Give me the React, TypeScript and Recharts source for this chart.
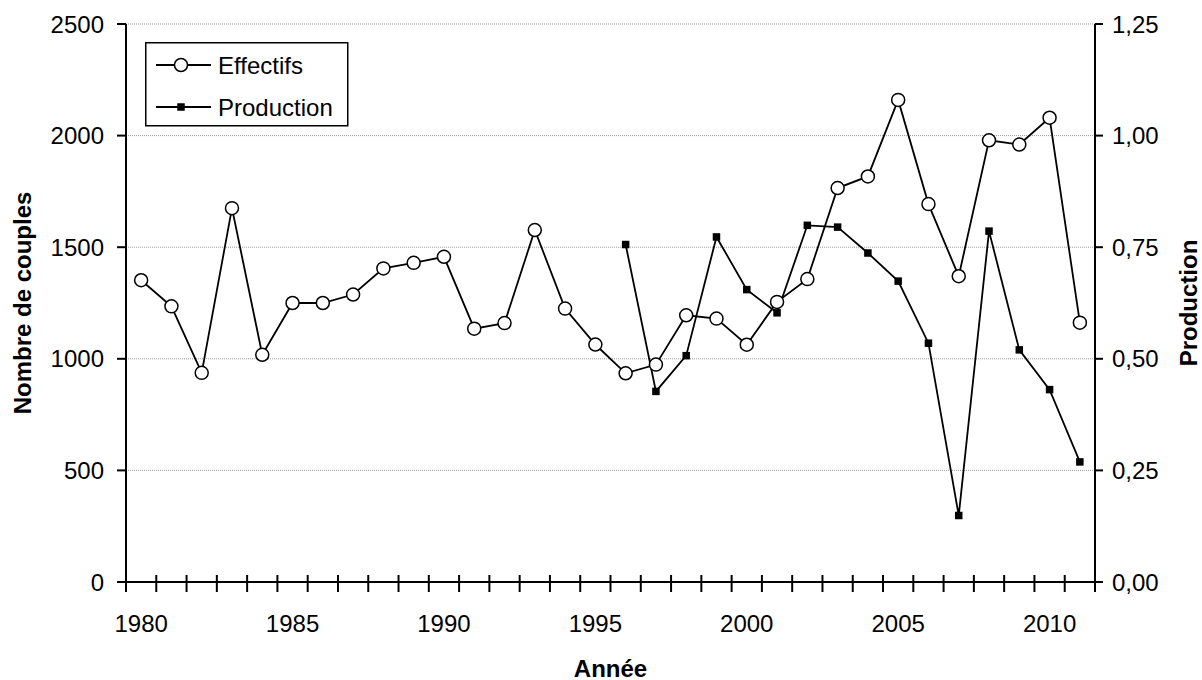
import React from "react";
import {
  CartesianGrid,
  Label,
  Legend,
  Line,
  LineChart,
  XAxis,
  YAxis,
} from "recharts";

// Breeding pairs (left axis) and productivity (right axis), 1980–2011.
const years = [
  1980, 1981, 1982, 1983, 1984, 1985, 1986, 1987, 1988, 1989, 1990, 1991, 1992, 1993, 1994, 1995,
  1996, 1997, 1998, 1999, 2000, 2001, 2002, 2003, 2004, 2005, 2006, 2007, 2008, 2009, 2010, 2011,
];
const effectifs = [
  1352, 1235, 937, 1675, 1018, 1250, 1250, 1288, 1405, 1430, 1457, 1135, 1160, 1577, 1225, 1064,
  935, 974, 1195, 1180, 1063, 1255, 1357, 1765, 1817, 2160, 1693, 1370, 1979, 1960, 2080, 1162,
];
const production = [
  null, null, null, null, null, null, null, null, null, null, null, null, null, null, null, null,
  0.756, 0.427, 0.507, 0.773, 0.655, 0.603, 0.799, 0.795, 0.737, 0.674, 0.535, 0.149, 0.786, 0.52,
  0.431, 0.269,
];
const leftTicks = [0, 500, 1000, 1500, 2000, 2500];
const rightTicks = [0, 0.25, 0.5, 0.75, 1, 1.25];
const labelYears = [1980, 1985, 1990, 1995, 2000, 2005, 2010];

const FONT = '"Liberation Sans", Arial, sans-serif';
const FS = 24;

const data = years.map((year, i) => ({
  year,
  effectifs: effectifs[i],
  production: production[i],
}));

// category boundaries (tick marks) plus the labelled years
const boundaries = [...years.map((y) => y - 0.5), years[years.length - 1] + 0.5];
const xTicks = [...boundaries, ...labelYears];

const YearTick = (props: any) => {
  const { x, y, payload } = props;
  const v = payload.value;
  if (Number.isInteger(v)) {
    return (
      <text x={x} y={y + 50} textAnchor="middle" fill="#000" fontSize={FS} fontFamily={FONT}>
        {v}
      </text>
    );
  }
  return <line x1={x} x2={x} y1={y - 7} y2={y + 10} stroke="#000" strokeWidth={2} />;
};

const SquareDot = (props: any) => {
  const { cx, cy, index } = props;
  if (cx == null || cy == null) return <g key={`sq-${index}`} />;
  return <rect key={`sq-${index}`} x={cx - 3.75} y={cy - 3.75} width={7.5} height={7.5} fill="#000" />;
};

const LegendBox = () => (
  <svg width={204} height={85} style={{ display: "block" }}>
    <rect x={0.75} y={0.75} width={202} height={83} fill="#fff" stroke="#000" strokeWidth={1.5} />
    <line x1={11} x2={66} y1={23} y2={23} stroke="#000" strokeWidth={1.8} />
    <circle cx={36} cy={23} r={6.5} fill="#fff" stroke="#000" strokeWidth={1.5} />
    <text x={73} y={31.5} fontSize={FS} fontFamily={FONT} fill="#000">
      Effectifs
    </text>
    <line x1={11} x2={66} y1={65} y2={65} stroke="#000" strokeWidth={1.8} />
    <rect x={32.25} y={61.25} width={7.5} height={7.5} fill="#000" />
    <text x={73} y={73.5} fontSize={FS} fontFamily={FONT} fill="#000">
      Production
    </text>
  </svg>
);

const titleStyle = { fontSize: FS, fontFamily: FONT, fontWeight: 700, fill: "#000" };

export default function App() {
  return (
    <div style={{ width: 1202, height: 680, background: "#fff", position: "relative" }}>
      <style>{"body{margin:0}"}</style>
      <LineChart width={1202} height={680} data={data} margin={{ top: 24, right: 47, bottom: 38, left: 66 }}>
        <CartesianGrid
          yAxisId="left"
          vertical={false}
          stroke="#9a9a9a"
          strokeDasharray="1 1"
          strokeWidth={1}
        />
        <XAxis
          dataKey="year"
          type="number"
          domain={[1979.5, 2011.5]}
          ticks={xTicks}
          interval={0}
          tick={<YearTick />}
          tickLine={false}
          tickSize={0}
          tickMargin={0}
          height={60}
          axisLine={{ stroke: "#000", strokeWidth: 2 }}
        >
          <Label
            content={(p: any) => {
              const vb = p.viewBox || { x: 126, y: 581, width: 969, height: 60 };
              return (
                <text x={vb.x + vb.width / 2} y={vb.y + 95} textAnchor="middle" {...titleStyle}>
                  Année
                </text>
              );
            }}
          />
        </XAxis>
        <YAxis
          yAxisId="left"
          domain={[0, 2500]}
          ticks={leftTicks}
          width={60}
          tickSize={9}
          tickMargin={13}
          tick={{ fill: "#000", fontSize: FS, fontFamily: FONT }}
          tickLine={{ stroke: "#000", strokeWidth: 2 }}
          axisLine={{ stroke: "#000", strokeWidth: 2 }}
        >
          <Label
            content={(p: any) => {
              const vb = p.viewBox || { x: 66, y: 24, width: 60, height: 557 };
              const cx = vb.x - 44;
              const cy = vb.y + vb.height / 2;
              return (
                <text
                  x={cx}
                  y={cy}
                  textAnchor="middle"
                  dominantBaseline="central"
                  transform={`rotate(-90, ${cx}, ${cy})`}
                  {...titleStyle}
                >
                  Nombre de couples
                </text>
              );
            }}
          />
        </YAxis>
        <YAxis
          yAxisId="right"
          orientation="right"
          domain={[0, 1.25]}
          ticks={rightTicks}
          width={60}
          tickSize={8}
          tickMargin={9}
          tickFormatter={(v: number) => v.toFixed(2).replace(".", ",")}
          tick={{ fill: "#000", fontSize: FS, fontFamily: FONT }}
          tickLine={{ stroke: "#000", strokeWidth: 2 }}
          axisLine={{ stroke: "#000", strokeWidth: 2 }}
        >
          <Label
            content={(p: any) => {
              const vb = p.viewBox || { x: 1095, y: 24, width: 60, height: 557 };
              const cx = vb.x + 93;
              const cy = vb.y + vb.height / 2;
              return (
                <text
                  x={cx}
                  y={cy}
                  textAnchor="middle"
                  dominantBaseline="central"
                  transform={`rotate(-90, ${cx}, ${cy})`}
                  {...titleStyle}
                >
                  Production
                </text>
              );
            }}
          />
        </YAxis>
        <Legend
          layout="vertical"
          align="center"
          verticalAlign="middle"
          content={() => <LegendBox />}
          wrapperStyle={{ left: 145, top: 42, width: "auto" }}
        />
        <Line
          yAxisId="left"
          dataKey="effectifs"
          name="Effectifs"
          type="linear"
          stroke="#000"
          strokeWidth={1.8}
          dot={{ r: 6.5, fill: "#fff", stroke: "#000", strokeWidth: 1.5 }}
          activeDot={false}
          isAnimationActive={false}
        />
        <Line
          yAxisId="right"
          dataKey="production"
          name="Production"
          type="linear"
          stroke="#000"
          strokeWidth={1.8}
          dot={<SquareDot />}
          activeDot={false}
          isAnimationActive={false}
        />
      </LineChart>
    </div>
  );
}
